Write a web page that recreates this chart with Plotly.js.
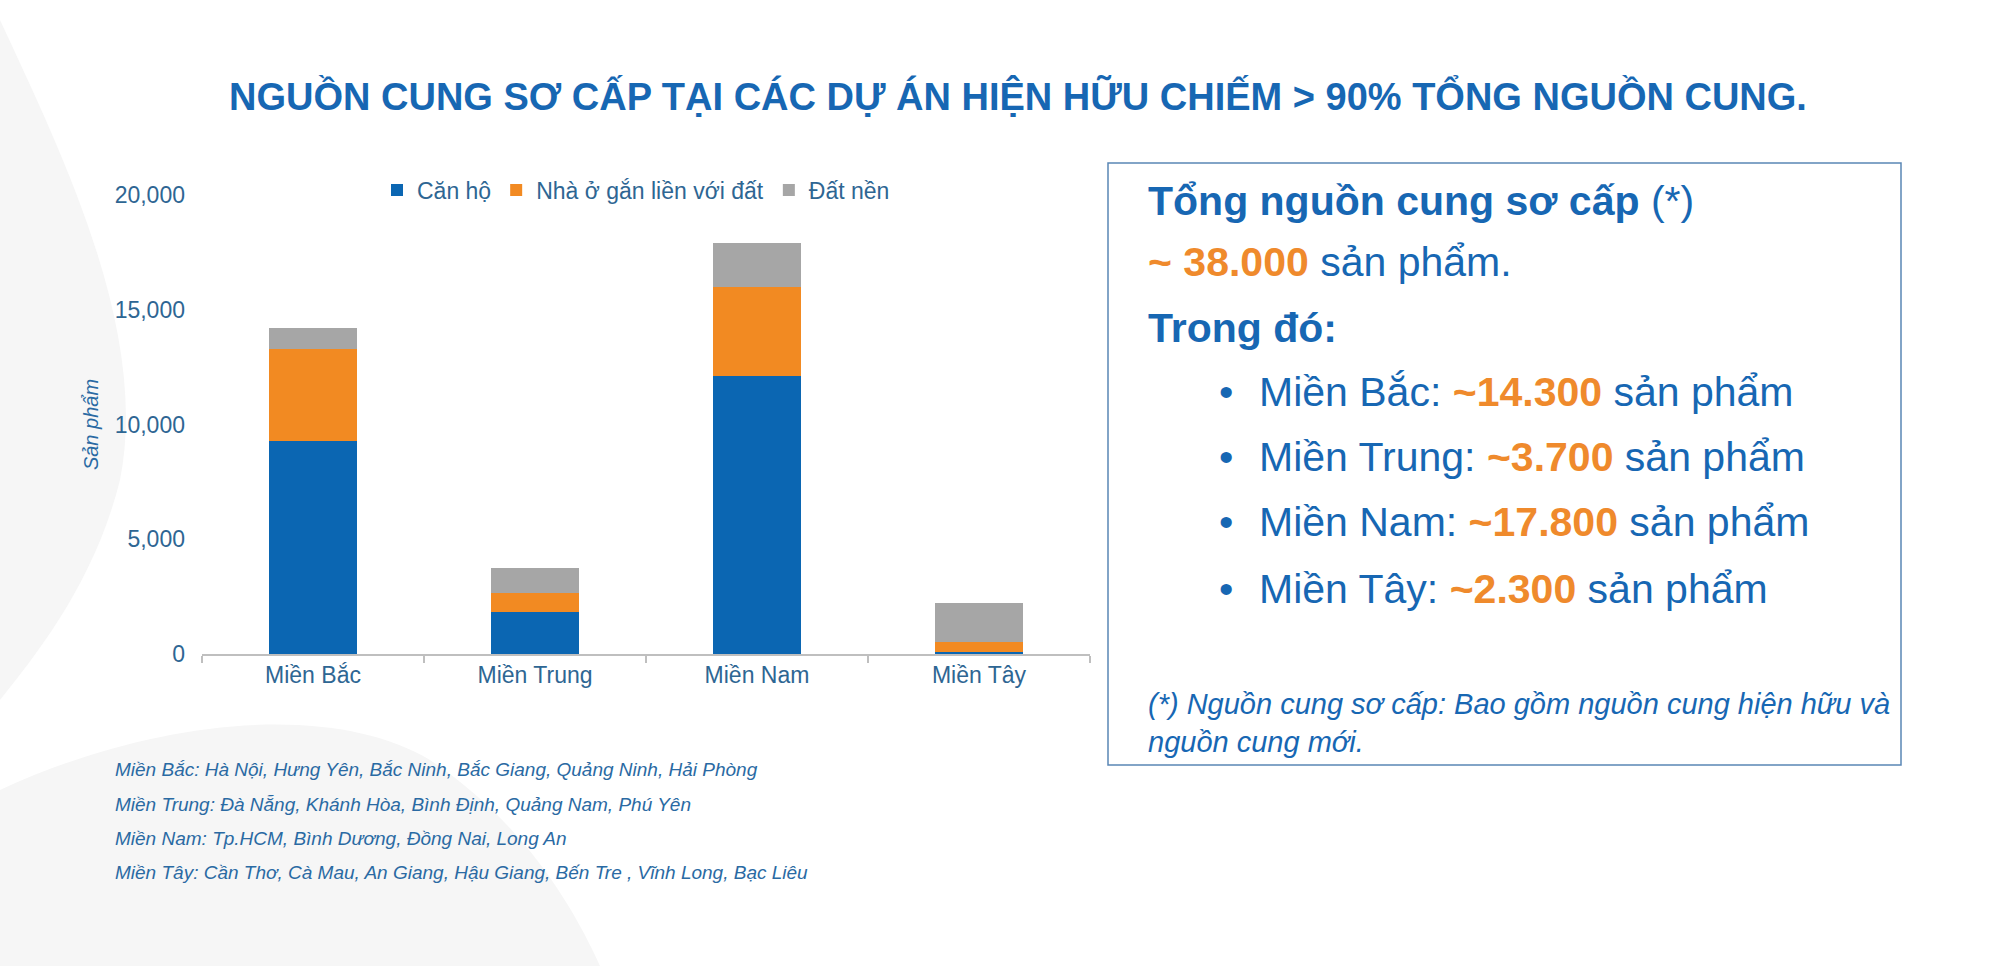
<!DOCTYPE html>
<html>
<head>
<meta charset="utf-8">
<script src="https://cdn.plot.ly/plotly-3.0.1.min.js"></script>
<style>
  html, body { margin: 0; padding: 0; background: #ffffff; }
  #chart { width: 2007px; height: 966px; }
</style>
</head>
<body>
<div id="chart"></div>
<script>
// ---- Data ----
const categories = ['Miền Bắc', 'Miền Trung', 'Miền Nam', 'Miền Tây'];
const canHo = [9300, 1820, 12100, 80];
const nhaO = [4000, 850, 3880, 450];
const datNen = [920, 1060, 1930, 1680];
const seriesNames = ['Căn hộ', 'Nhà ở gắn liền với đất', 'Đất nền'];
const yTicks = [0, 5000, 10000, 15000, 20000];

const chartTitle = 'NGUỒN CUNG SƠ CẤP TẠI CÁC DỰ ÁN HIỆN HỮU CHIẾM > 90% TỔNG NGUỒN CUNG.';
const yTitle = 'Sản phẩm';
const totalLine = ['~ 38.000', ' sản phẩm.'];
const regionLines = [
  ['Miền Bắc: ', '~14.300', ' sản phẩm'],
  ['Miền Trung: ', '~3.700', ' sản phẩm'],
  ['Miền Nam: ', '~17.800', ' sản phẩm'],
  ['Miền Tây: ', '~2.300', ' sản phẩm']
];
const footnoteLines = [
  '(*) Nguồn cung sơ cấp: Bao gồm nguồn cung hiện hữu và',
  'nguồn cung mới.'
];
const regionNotes = [
  'Miền Bắc: Hà Nội, Hưng Yên, Bắc Ninh, Bắc Giang, Quảng Ninh, Hải Phòng',
  'Miền Trung: Đà Nẵng, Khánh Hòa, Bình Định, Quảng Nam, Phú Yên',
  'Miền Nam: Tp.HCM, Bình Dương, Đồng Nai, Long An',
  'Miền Tây: Cần Thơ, Cà Mau, An Giang, Hậu Giang, Bến Tre , Vĩnh Long, Bạc Liêu'
];

// ---- Style ----
const W = 2007, H = 966;
const FONT = 'Arial, "Liberation Sans", sans-serif';
const BLUE = '#0b66b2', ORANGE = '#f28a22', GRAY = '#a6a6a6';
const TXT_BLUE = '#1767b3', AXIS_TXT = '#2e6693', ORANGE_TXT = '#ef8a2c';
const px = x => x / W;
const py = y => 1 - y / H;

const traces = [
  { type: 'bar', name: seriesNames[0], x: categories, y: canHo, marker: { color: BLUE } },
  { type: 'bar', name: seriesNames[1], x: categories, y: nhaO, marker: { color: ORANGE } },
  { type: 'bar', name: seriesNames[2], x: categories, y: datNen, marker: { color: GRAY } }
].map(t => Object.assign(t, { hoverinfo: 'x+y+name' }));

const ann = [];
function addText(text, x, y, size, opts) {
  ann.push(Object.assign({
    text: text, xref: 'paper', yref: 'paper', x: px(x), y: py(y),
    xanchor: 'left', yanchor: 'middle', showarrow: false,
    font: { family: FONT, size: size, color: TXT_BLUE }
  }, opts || {}));
}

// Title
addText('<b>' + chartTitle + '</b>', 1018, 96, 38, { xanchor: 'center', font: { family: FONT, size: 38, color: TXT_BLUE } });

// Box text
const bx = 1146;
addText('<b>Tổng nguồn cung sơ cấp</b> (*)', bx, 201, 41);
addText('<b><span style="color:' + ORANGE_TXT + '">' + totalLine[0] + '</span></b>' + totalLine[1], bx, 262, 41);
addText('<b>Trong đó:</b>', bx, 328, 41);
const bulletY = [392, 457, 522, 589];
regionLines.forEach((r, i) => {
  addText('•', 1226, bulletY[i], 41, { xanchor: 'center' });
  addText(r[0] + '<b><span style="color:' + ORANGE_TXT + '">' + r[1] + '</span></b>' + r[2], 1257, bulletY[i], 41);
});
addText('<i>' + footnoteLines[0] + '</i>', bx, 704, 29);
addText('<i>' + footnoteLines[1] + '</i>', bx, 742, 29);

// Region notes
const noteY = [769, 804, 838, 872];
regionNotes.forEach((t, i) => addText('<i>' + t + '</i>', 113, noteY[i], 19, { font: { family: FONT, size: 19, color: '#2a6aa3' } }));

// Shapes: faint background swooshes + box
const shapes = [
  { type: 'path', xref: 'paper', yref: 'paper', layer: 'below', fillcolor: '#f6f6f6', line: { width: 0 },
    path: `M 0 ${py(20)} C ${px(60)} ${py(150)} ${px(150)} ${py(330)} ${px(120)} ${py(480)} C ${px(95)} ${py(580)} ${px(40)} ${py(650)} 0 ${py(700)} Z` },
  { type: 'path', xref: 'paper', yref: 'paper', layer: 'below', fillcolor: '#f6f6f6', line: { width: 0 },
    path: `M 0 ${py(790)} C ${px(150)} ${py(720)} ${px(330)} ${py(700)} ${px(430)} ${py(760)} C ${px(520)} ${py(820)} ${px(570)} ${py(900)} ${px(600)} ${py(966)} L 0 ${py(966)} Z` },
  { type: 'rect', xref: 'paper', yref: 'paper', layer: 'above',
    x0: px(1108), x1: px(1901), y0: py(765), y1: py(163),
    line: { color: '#5a86b5', width: 1.5 }, fillcolor: 'rgba(0,0,0,0)' }
];

const layout = {
  width: W, height: H,
  margin: { l: 0, r: 0, t: 0, b: 0 },
  paper_bgcolor: '#ffffff', plot_bgcolor: 'rgba(0,0,0,0)',
  barmode: 'stack', bargap: 0.6,
  font: { family: FONT, color: AXIS_TXT },
  showlegend: true,
  legend: {
    orientation: 'h', x: px(636), xanchor: 'center', y: py(190), yanchor: 'middle',
    font: { family: FONT, size: 23, color: AXIS_TXT }, bgcolor: 'rgba(0,0,0,0)',
    itemwidth: 30, traceorder: 'normal'
  },
  xaxis: {
    domain: [px(202), px(1090)],
    showline: true, linecolor: '#bfbfbf', linewidth: 1.5,
    ticks: 'outside', tickson: 'boundaries', ticklen: 7, tickcolor: '#bfbfbf', tickwidth: 1.5,
    tickfont: { family: FONT, size: 23, color: AXIS_TXT },
    showgrid: false, zeroline: false, fixedrange: true
  },
  yaxis: {
    domain: [py(654), py(195)], range: [0, 20000],
    tickvals: yTicks, tickformat: ',d', ticks: '', showline: false, showgrid: false, zeroline: false,
    ticklabelstandoff: 16,
    tickfont: { family: FONT, size: 23, color: AXIS_TXT },
    title: { text: '<i>' + yTitle + '</i>', font: { family: FONT, size: 20, color: '#2a6aa3' }, standoff: 10 },
    fixedrange: true
  },
  annotations: ann,
  shapes: shapes
};

Plotly.newPlot('chart', traces, layout, { displayModeBar: false, staticPlot: true });
</script>
</body>
</html>
